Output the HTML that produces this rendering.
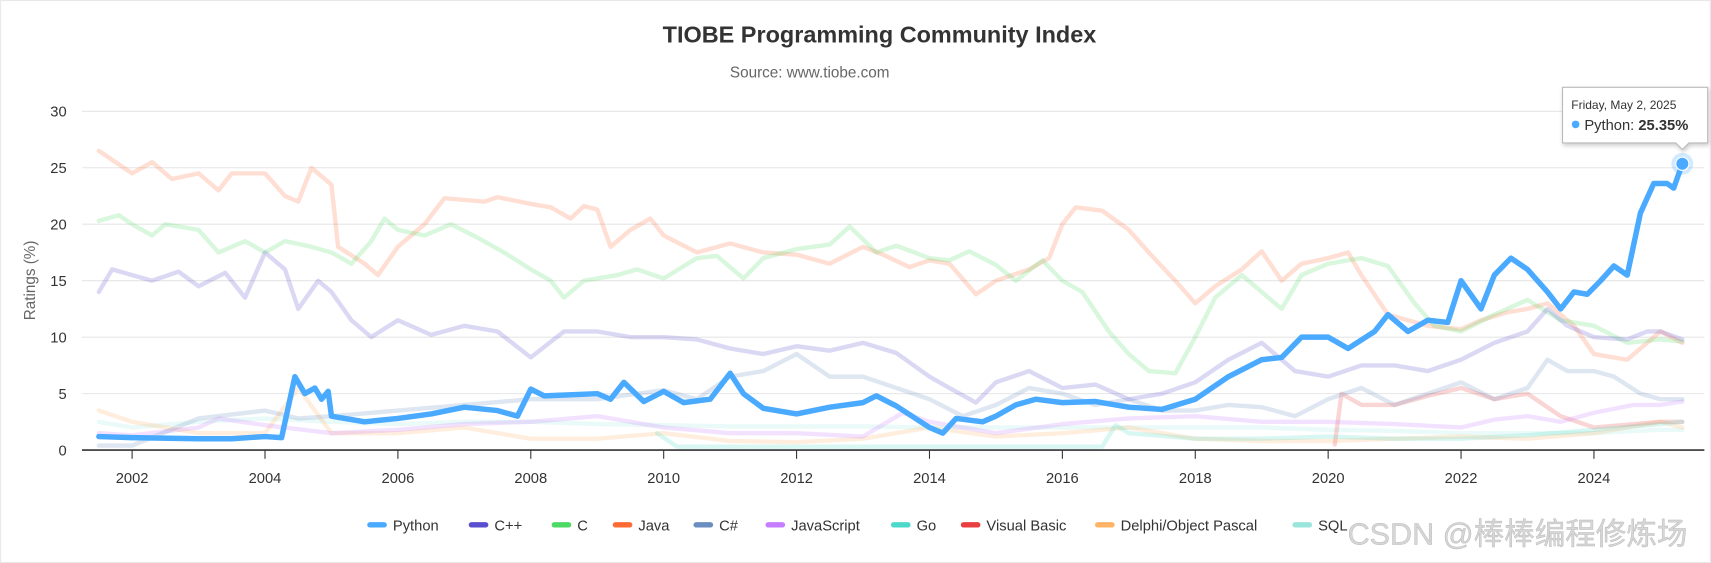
<!DOCTYPE html>
<html><head><meta charset="utf-8">
<style>
html,body{margin:0;padding:0;background:#fff;}
body{width:1711px;height:563px;overflow:hidden;position:relative;font-family:"Liberation Sans","Noto Sans CJK SC",sans-serif;}
#chart{position:absolute;left:0;top:0;}
</style></head>
<body>
<svg id="chart" width="1711" height="563" viewBox="0 0 1568 516">
  <rect x="0.5" y="0.5" width="1567" height="515" fill="#fff" stroke="#e8e8e8"/>
  <text x="806" y="39" text-anchor="middle" font-size="21.5" font-weight="bold" fill="#333">TIOBE Programming Community Index</text>
  <text x="742" y="71" text-anchor="middle" font-size="14" fill="#666">Source: www.tiobe.com</text>
  <text transform="translate(32,257) rotate(-90)" text-anchor="middle" font-size="14" fill="#666">Ratings (%)</text>
  <g id="grid"></g>
  <g id="xaxis"></g>
  <g id="series"></g>
  <g id="legend"></g>
  <g id="tooltip"></g>
  <text x="1235" y="499" font-size="28" fill="#d6d6d6" stroke="#b8b8b8" stroke-width="0.4" font-family="Liberation Sans, Noto Sans CJK SC, sans-serif">CSDN @棒棒编程修炼场</text>
</svg>
<script>
const yTicks=[0,5,10,15,20,25,30];
const xTickYears=[2002,2004,2006,2008,2010,2012,2014,2016,2018,2020,2022,2024];
const seriesNames=["Python","C++","C","Java","C#","JavaScript","Go","Visual Basic","Delphi/Object Pascal","SQL"];
const seriesColors=["#4aaaff","#5a4fcf","#4cd964","#ff6b35","#6b8ec0","#c77dff","#4dd9c9","#e84040","#ffb366","#9ae6dd"];

const pyT=[2001.5,2002,2003,2003.5,2004,2004.25,2004.45,2004.6,2004.75,2004.85,2004.95,2005,2005.5,2006,2006.5,2007,2007.5,2007.8,2008,2008.2,2009,2009.2,2009.4,2009.7,2010,2010.3,2010.7,2011,2011.2,2011.5,2012,2012.5,2013,2013.2,2013.5,2014,2014.2,2014.4,2014.8,2015,2015.3,2015.6,2016,2016.5,2017,2017.5,2018,2018.5,2019,2019.3,2019.6,2020,2020.3,2020.7,2020.9,2021.2,2021.5,2021.8,2022,2022.3,2022.5,2022.75,2023,2023.3,2023.5,2023.7,2023.9,2024.1,2024.3,2024.5,2024.7,2024.9,2025.1,2025.2,2025.33];
const pyV=[1.2,1.1,1.0,1.0,1.2,1.1,6.5,5,5.5,4.5,5.2,3,2.5,2.8,3.2,3.8,3.5,3.0,5.4,4.8,5,4.5,6,4.3,5.2,4.2,4.5,6.8,5,3.7,3.2,3.8,4.2,4.8,3.9,2,1.5,2.8,2.5,3,4,4.5,4.2,4.3,3.8,3.6,4.5,6.5,8,8.2,10,10,9,10.5,12,10.5,11.5,11.3,15,12.5,15.5,17,16,14,12.5,14,13.8,15,16.3,15.5,21,23.6,23.6,23.2,25.35];

const cppT=[2001.5,2001.7,2002.3,2002.7,2003,2003.4,2003.7,2004,2004.3,2004.5,2004.8,2005,2005.3,2005.6,2006,2006.5,2007,2007.5,2008,2008.5,2009,2009.5,2010,2010.5,2011,2011.5,2012,2012.5,2013,2013.5,2014,2014.3,2014.7,2015,2015.5,2016,2016.5,2017,2017.5,2018,2018.5,2019,2019.5,2020,2020.5,2021,2021.5,2022,2022.5,2023,2023.3,2023.6,2024,2024.5,2024.8,2025,2025.33];
const cppV=[14,16,15,15.8,14.5,15.7,13.5,17.5,16,12.5,15,14,11.5,10,11.5,10.2,11,10.5,8.2,10.5,10.5,10,10,9.8,9,8.5,9.2,8.8,9.5,8.6,6.5,5.5,4.2,6,7,5.5,5.8,4.5,5,6,8,9.5,7,6.5,7.5,7.5,7,8,9.5,10.5,12.5,11,10,9.8,10.5,10.5,9.8];

const cT=[2001.5,2001.8,2002,2002.3,2002.5,2003,2003.3,2003.7,2004,2004.3,2004.7,2005,2005.3,2005.6,2005.8,2006,2006.4,2006.8,2007.2,2007.6,2008,2008.3,2008.5,2008.8,2009.3,2009.6,2010,2010.5,2010.8,2011.2,2011.5,2012,2012.5,2012.8,2013.2,2013.5,2014,2014.3,2014.6,2015,2015.3,2015.7,2016,2016.3,2016.7,2017,2017.3,2017.7,2018,2018.3,2018.7,2019,2019.3,2019.6,2020,2020.5,2020.9,2021.3,2021.6,2022,2022.5,2023,2023.5,2024,2024.5,2025,2025.33];
const cV=[20.3,20.8,20,19,20,19.5,17.5,18.5,17.5,18.5,18,17.5,16.5,18.5,20.5,19.5,19,20,18.8,17.5,16,15,13.5,15,15.5,16,15.2,17,17.2,15.2,17,17.8,18.2,19.8,17.5,18.1,17,16.8,17.6,16.4,15,16.8,15,14,10.5,8.5,7,6.8,10,13.5,15.5,14,12.5,15.5,16.5,17,16.3,13,11,10.5,12,13.3,11.5,11,9.5,9.8,9.6];

const javaT=[2001.5,2002,2002.3,2002.6,2003,2003.3,2003.5,2004,2004.3,2004.5,2004.7,2005,2005.1,2005.5,2005.7,2006,2006.4,2006.7,2007.3,2007.5,2008,2008.3,2008.6,2008.8,2009,2009.2,2009.5,2009.8,2010,2010.5,2011,2011.5,2012,2012.5,2013,2013.3,2013.7,2014,2014.3,2014.7,2015,2015.5,2015.8,2016,2016.2,2016.6,2017,2017.3,2017.7,2018,2018.3,2018.7,2019,2019.3,2019.6,2020,2020.3,2020.5,2020.9,2021.5,2022,2022.3,2022.7,2023,2023.3,2023.7,2024,2024.5,2025,2025.33];
const javaV=[26.5,24.5,25.5,24,24.5,23,24.5,24.5,22.5,22,25,23.5,18,16.5,15.5,18,20,22.3,22,22.4,21.8,21.5,20.5,21.6,21.3,18,19.5,20.5,19,17.5,18.3,17.5,17.3,16.5,18,17.3,16.2,16.8,16.5,13.8,15,16,17,20,21.5,21.2,19.5,17.5,15,13,14.5,16,17.6,15,16.5,17,17.5,15.5,12,11,10.7,11.5,12.2,12.5,13,11,8.5,8,10.5,9.5];

const csT=[2001.5,2002,2003,2004,2004.5,2005,2006,2007,2008,2009,2010,2010.5,2011,2011.5,2012,2012.5,2013,2013.5,2014,2014.5,2015,2015.5,2016,2016.5,2017,2017.5,2018,2018.5,2019,2019.5,2020,2020.5,2021,2021.5,2022,2022.5,2023,2023.3,2023.6,2024,2024.3,2024.7,2025,2025.33];
const csV=[0.4,0.4,2.8,3.5,2.8,3,3.5,4,4.5,4.5,5.3,4.5,6.5,7,8.5,6.5,6.5,5.5,4.5,3,4,5.5,5,4,4.5,3.5,3.5,4,3.8,3,4.5,5.5,4,5,6,4.5,5.5,8,7,7,6.5,5,4.5,4.5];

const jsT=[2001.5,2002,2003,2003.3,2004,2005,2006,2007,2008,2009,2010,2011,2012,2013,2013.6,2014,2015,2016,2017,2018,2019,2020,2021,2022,2022.5,2023,2023.5,2024,2024.6,2025,2025.33];
const jsV=[1.5,1.3,2,2.8,2.2,1.5,1.8,2.3,2.5,3,2,1.5,1.5,1.2,3.3,2.5,1.5,2.3,2.8,3,2.5,2.5,2.3,2,2.7,3,2.5,3.3,4,4,4.3];

const goT=[2009.9,2010.2,2011,2012,2013,2014,2015,2016,2016.6,2016.8,2017,2018,2019,2020,2021,2022,2023,2024,2025,2025.33];
const goV=[1.5,0.3,0.3,0.3,0.3,0.3,0.3,0.3,0.3,2.2,1.5,1,1,1.2,1,1,1.3,1.8,2.3,2.5];

const vbT=[2020.1,2020.2,2020.5,2021,2021.5,2022,2022.5,2023,2023.5,2024,2025,2025.33];
const vbV=[0.5,5,4,4,4.8,5.5,4.5,5,3,2,2.5,2.5];

const dpT=[2001.5,2002,2003,2004,2004.5,2005,2006,2007,2008,2009,2010,2011,2012,2013,2014,2015,2016,2017,2018,2019,2020,2021,2022,2023,2024,2025,2025.33];
const dpV=[3.5,2.5,1.5,1.5,5.5,1.5,1.5,2,1,1,1.5,0.8,0.7,1,2,1.2,1.5,2,1,0.8,0.8,1,1.2,1,1.5,2.5,2];

const sqlT=[2001.5,2002,2003,2004,2005,2006,2007,2008,2009,2010,2011,2012,2013,2014,2015,2016,2017,2018,2019,2020,2021,2022,2023,2024,2025,2025.33];
const sqlV=[2.5,2,2.5,2.8,2.5,2.3,2.5,2.5,2.3,2.2,2.1,2.1,2.1,2,2,2,2,2,2,1.8,1.7,1.5,1.5,1.5,1.8,1.8];

const tipLabel="Friday, May 2, 2025";

const NS="http://www.w3.org/2000/svg";
const X0=75,X1=1562,Y0=412.5,PXU=10.35;
function xs(t){return 121+(t-2002)*60.9;}
function ys(v){return Y0-v*PXU;}
function mk(tag,attrs,parent){const e=document.createElementNS(NS,tag);for(const k in attrs)e.setAttribute(k,attrs[k]);parent.appendChild(e);return e;}

const grid=document.getElementById('grid');
yTicks.forEach(v=>{
  if(v>0){const l=mk('line',{x1:X0,x2:X1,y1:ys(v),y2:ys(v),stroke:'#e6e6e6','stroke-width':1},grid);
  
  }
  const t=mk('text',{x:61,y:ys(v)+5,'text-anchor':'end','font-size':13.5,fill:'#333'},grid);
  t.textContent=v;
  
  
});
const xa=document.getElementById('xaxis');
const axl=mk('line',{x1:X0,x2:X1,y1:Y0,y2:Y0,stroke:'#333','stroke-width':1.5},xa);


xTickYears.forEach(y=>{
  const tk=mk('line',{x1:xs(y),x2:xs(y),y1:Y0,y2:Y0+8,stroke:'#333','stroke-width':1},xa);
  
  
  const t=mk('text',{x:xs(y),y:Y0+30,'text-anchor':'middle','font-size':13.5,fill:'#333'},xa);
  t.textContent=y;
  
  
});

const allT=[pyT,cppT,cT,javaT,csT,jsT,goT,vbT,dpT,sqlT];
const allV=[pyV,cppV,cV,javaV,csV,jsV,goV,vbV,dpV,sqlV];
const sg=document.getElementById('series');
const order=[9,8,7,6,5,4,3,2,1,0];
order.forEach(i=>{
  const pts=allT[i].map((t,j)=>xs(t).toFixed(1)+','+ys(allV[i][j]).toFixed(1)).join(' ');
  const p=mk('polyline',{points:pts,fill:'none',stroke:seriesColors[i],'stroke-width':i===0?5:4,'stroke-linejoin':'round','stroke-linecap':'round',opacity:i===0?1:0.22},sg);
  
  
});

const lg=document.getElementById('legend');
const lx=[337,430,506,562,636,702,817,881,1004,1185];
seriesNames.forEach((n,i)=>{
  const g=mk('g',{},lg);
  
  
  mk('line',{x1:lx[i]+2,x2:lx[i]+15,y1:481,y2:481,stroke:seriesColors[i],'stroke-width':5,'stroke-linecap':'round'},g);
  const t=mk('text',{x:lx[i]+23,y:486,'font-size':13.5,fill:'#333'},g);
  t.textContent=n;
});

const tg=document.getElementById('tooltip');
const lastT=pyT[pyT.length-1],lastV=pyV[pyV.length-1];
const px=xs(lastT),py=ys(lastV);
const halo=mk('circle',{cx:px,cy:py,r:10,fill:'#4aaaff',opacity:0.25},tg);


const dot=mk('circle',{cx:px,cy:py,r:6,fill:'#4aaaff',stroke:'#fff','stroke-width':1},tg);


const box=mk('path',{d:`M1432,80 H1565 V131 H${px+6} L${px},137 L${px-6},131 H1432 Z`,fill:'#fff',stroke:'#bbb','stroke-width':1,style:'filter:drop-shadow(1px 2px 2px rgba(0,0,0,0.2))'},tg);


const t1=mk('text',{x:1440,y:100,'font-size':11,fill:'#333'},tg);
t1.textContent=tipLabel;


const td=mk('circle',{cx:1444,cy:114,r:3.5,fill:'#4aaaff'},tg);


const t2=mk('text',{x:1452,y:119,'font-size':13.5,fill:'#333'},tg);


t2.appendChild(document.createTextNode('Python: '));
const b=mk('tspan',{'font-weight':'bold'},t2);
b.textContent=lastV.toFixed(2)+'%';
</script>
</body></html>
